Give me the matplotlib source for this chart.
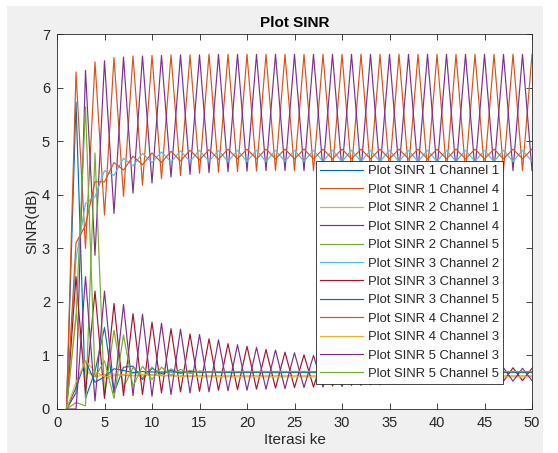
import matplotlib.pyplot as plt
from matplotlib.patches import Rectangle

iterasi = list(range(1, 51))

# SINR values (dB) per user/channel
sinr1_ch1 = [0, 5.73, 0.2, 0.7, 1.52, 0.3, 0.78, 0.8, 0.55, 0.76, 0.66, 0.72, 0.67, 0.7, 0.68,
             0.69, 0.68, 0.68, 0.68, 0.68, 0.68, 0.68, 0.68, 0.68, 0.68, 0.68, 0.68, 0.68, 0.68, 0.68,
             0.68, 0.68, 0.68, 0.68, 0.68, 0.68, 0.68, 0.68, 0.68, 0.68, 0.68, 0.68, 0.68, 0.68, 0.68,
             0.68, 0.68, 0.68, 0.68, 0.68]
sinr1_ch4 = [0, 6.29, 3.0, 6.48, 3.62, 6.56, 3.97, 6.59, 4.18, 6.6, 4.3, 6.61, 4.36, 6.61, 4.4,
             6.62, 4.42, 6.62, 4.43, 6.62, 4.44, 6.62, 4.45, 6.62, 4.45, 6.62, 4.45, 6.62, 4.45, 6.62,
             4.45, 6.62, 4.45, 6.62, 4.45, 6.62, 4.45, 6.62, 4.45, 6.62, 4.45, 6.62, 4.45, 6.62, 4.45,
             6.62, 4.45, 6.62, 4.45, 6.62]
sinr2_ch1 = [0, 1.77, 0.72, 0.6, 0.64, 0.65, 0.63, 0.62, 0.63, 0.63, 0.62, 0.62, 0.62, 0.62, 0.62,
             0.62, 0.62, 0.62, 0.62, 0.62, 0.62, 0.62, 0.62, 0.62, 0.62, 0.62, 0.62, 0.62, 0.62, 0.62,
             0.62, 0.62, 0.62, 0.62, 0.62, 0.62, 0.62, 0.62, 0.62, 0.62, 0.62, 0.62, 0.62, 0.62, 0.62,
             0.62, 0.62, 0.62, 0.62, 0.62]
sinr2_ch4 = [0, 0.3, 6.32, 2.87, 6.5, 3.65, 6.57, 4.03, 6.59, 4.22, 6.6, 4.33, 6.61, 4.38, 6.61,
             4.41, 6.62, 4.43, 6.62, 4.44, 6.62, 4.45, 6.62, 4.45, 6.62, 4.45, 6.62, 4.45, 6.62, 4.45,
             6.62, 4.45, 6.62, 4.45, 6.62, 4.45, 6.62, 4.45, 6.62, 4.45, 6.62, 4.45, 6.62, 4.45, 6.62,
             4.45, 6.62, 4.45, 6.62, 4.45]
sinr2_ch5 = [0, 0.12, 0.06, 4.78, 0.23, 1.47, 0.4, 0.78, 0.58, 0.78, 0.62, 0.75, 0.66, 0.72, 0.68,
             0.7, 0.69, 0.69, 0.69, 0.69, 0.69, 0.69, 0.69, 0.69, 0.69, 0.69, 0.69, 0.69, 0.69, 0.69,
             0.69, 0.69, 0.69, 0.69, 0.69, 0.69, 0.69, 0.69, 0.69, 0.69, 0.69, 0.69, 0.69, 0.69, 0.69,
             0.69, 0.69, 0.69, 0.69, 0.69]
sinr3_ch2 = [0, 2.8, 3.84, 3.96, 4.45, 4.36, 4.68, 4.54, 4.77, 4.6, 4.8, 4.61, 4.82, 4.62, 4.83,
             4.62, 4.83, 4.62, 4.83, 4.62, 4.83, 4.62, 4.83, 4.62, 4.83, 4.62, 4.83, 4.62, 4.83, 4.62,
             4.83, 4.62, 4.83, 4.62, 4.83, 4.62, 4.83, 4.62, 4.83, 4.62, 4.83, 4.62, 4.83, 4.62, 4.83,
             4.62, 4.83, 4.62, 4.83, 4.62]
sinr3_ch3 = [0, 2.47, 0.3, 2.2, 0.2, 1.97, 0.25, 1.78, 0.27, 1.62, 0.3, 1.5, 0.32, 1.4, 0.33,
             1.31, 0.35, 1.22, 0.36, 1.17, 0.37, 1.11, 0.39, 1.06, 0.4, 1.01, 0.41, 0.97, 0.43, 0.94,
             0.44, 0.91, 0.45, 0.88, 0.46, 0.86, 0.47, 0.84, 0.48, 0.82, 0.49, 0.8, 0.5, 0.79, 0.51,
             0.78, 0.52, 0.77, 0.53, 0.76]
sinr3_ch5 = [0, 0.4, 0.9, 0.5, 0.6, 0.75, 0.72, 0.68, 0.7, 0.69, 0.69, 0.69, 0.69, 0.69, 0.69,
             0.69, 0.69, 0.69, 0.69, 0.69, 0.69, 0.69, 0.69, 0.69, 0.69, 0.69, 0.69, 0.69, 0.69, 0.69,
             0.69, 0.69, 0.69, 0.69, 0.69, 0.69, 0.69, 0.69, 0.69, 0.69, 0.69, 0.69, 0.69, 0.69, 0.69,
             0.69, 0.69, 0.69, 0.69, 0.69]
sinr4_ch2 = [0, 3.1, 3.43, 4.24, 4.24, 4.6, 4.46, 4.72, 4.56, 4.78, 4.6, 4.81, 4.63, 4.83, 4.65,
             4.84, 4.66, 4.85, 4.67, 4.85, 4.67, 4.85, 4.67, 4.85, 4.67, 4.85, 4.67, 4.85, 4.67, 4.85,
             4.67, 4.85, 4.67, 4.85, 4.67, 4.85, 4.67, 4.85, 4.67, 4.85, 4.67, 4.85, 4.67, 4.85, 4.67,
             4.85, 4.67, 4.85, 4.67, 4.85]
sinr4_ch3 = [0, 0.5, 0.9, 0.7, 0.6, 0.62, 0.64, 0.66, 0.65, 0.64, 0.63, 0.62, 0.61, 0.61, 0.6,
             0.6, 0.6, 0.6, 0.6, 0.6, 0.6, 0.6, 0.6, 0.6, 0.6, 0.6, 0.6, 0.6, 0.6, 0.6,
             0.6, 0.6, 0.6, 0.6, 0.6, 0.6, 0.6, 0.6, 0.6, 0.6, 0.6, 0.6, 0.6, 0.6, 0.6,
             0.6, 0.6, 0.6, 0.6, 0.6]
sinr5_ch3 = [0, 0.0, 2.47, 0.15, 2.2, 0.3, 1.95, 0.25, 1.77, 0.24, 1.6, 0.27, 1.49, 0.3, 1.39,
             0.32, 1.29, 0.34, 1.2, 0.35, 1.15, 0.37, 1.1, 0.38, 1.05, 0.4, 1.0, 0.41, 0.96, 0.42,
             0.92, 0.44, 0.89, 0.45, 0.87, 0.46, 0.85, 0.47, 0.83, 0.48, 0.81, 0.49, 0.79, 0.5, 0.78,
             0.51, 0.77, 0.52, 0.76, 0.53]
sinr5_ch5 = [0, 1.7, 5.64, 0.6, 0.9, 0.2, 1.38, 0.42, 0.8, 0.55, 0.78, 0.63, 0.74, 0.66, 0.71,
             0.69, 0.7, 0.7, 0.7, 0.7, 0.7, 0.7, 0.7, 0.7, 0.7, 0.7, 0.7, 0.7, 0.7, 0.7,
             0.7, 0.7, 0.7, 0.7, 0.7, 0.7, 0.7, 0.7, 0.7, 0.7, 0.7, 0.7, 0.7, 0.7, 0.7,
             0.7, 0.7, 0.7, 0.7, 0.7]

series = [sinr1_ch1, sinr1_ch4, sinr2_ch1, sinr2_ch4, sinr2_ch5, sinr3_ch2,
          sinr3_ch3, sinr3_ch5, sinr4_ch2, sinr4_ch3, sinr5_ch3, sinr5_ch5]
labels = ['Plot SINR 1 Channel 1', 'Plot SINR 1 Channel 4', 'Plot SINR 2 Channel 1',
          'Plot SINR 2 Channel 4', 'Plot SINR 2 Channel 5', 'Plot SINR 3 Channel 2',
          'Plot SINR 3 Channel 3', 'Plot SINR 3 Channel 5', 'Plot SINR 4 Channel 2',
          'Plot SINR 4 Channel 3', 'Plot SINR 5 Channel 3', 'Plot SINR 5 Channel 5']
# MATLAB default color order
colors = ['#0072BD', '#D95319', '#EDB120', '#7E2F8E', '#77AC30', '#4DBEEE', '#A2142F']

plt.rcParams['font.family'] = ['Liberation Sans', 'DejaVu Sans']
fig = plt.figure(figsize=(5.58, 4.53), dpi=100, facecolor='white')
fig.patches.append(Rectangle((7/558, 0), 536/558, 447/453, transform=fig.transFigure,
                             facecolor='#f0f0f0', edgecolor='none', zorder=-10))
ax = fig.add_axes([57/558, 44/453, 475/558, 375/453])

for i in range(len(series)):
    ax.plot(iterasi, series[i], color=colors[i % 7], linewidth=0.85, label=labels[i])

ax.set_xlim(0, 50)
ax.set_ylim(0, 7)
ax.set_xticks(range(0, 51, 5))
ax.set_yticks(range(0, 8))
dark = '#262626'
ax.tick_params(direction='in', length=4, width=0.6, top=True, right=True,
               labelsize=10.5, colors=dark, labelcolor=dark, pad=5)
for s in ax.spines.values():
    s.set_color(dark)
    s.set_linewidth(0.6)
ax.set_title('Plot SINR', fontsize=11, fontweight='bold', color='black', pad=5)
ax.set_xlabel('Iterasi ke', fontsize=11, color=dark, labelpad=2)
ax.set_ylabel('SINR(dB)', fontsize=11, color=dark, labelpad=2)

leg = ax.legend(loc='lower left', bbox_to_anchor=(0.545, 0.067), fontsize=9.4,
                frameon=True, fancybox=False, framealpha=1, edgecolor=dark,
                handlelength=3.3, handletextpad=0.4, labelspacing=0.48,
                borderpad=0.3, borderaxespad=0)
leg.get_frame().set_linewidth(0.6)
for t in leg.get_texts():
    t.set_color(dark)

plt.savefig('out.png', dpi=100)
